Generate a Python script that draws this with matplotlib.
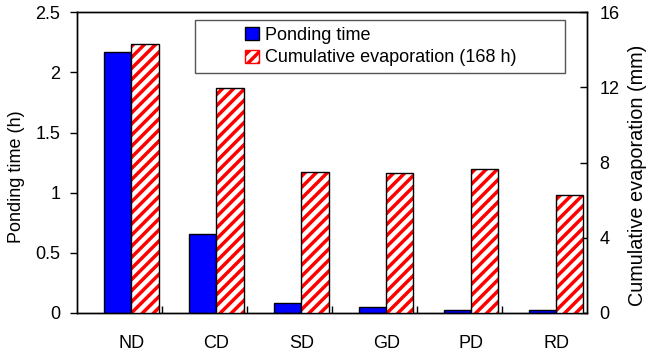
import matplotlib.pyplot as plt
import numpy as np
from matplotlib.patches import Patch, Rectangle

plt.rcParams['font.family'] = ['Liberation Sans', 'DejaVu Sans']
plt.rcParams['hatch.linewidth'] = 2.5

categories = ['ND', 'CD', 'SD', 'GD', 'PD', 'RD']
ponding_time = [2.17, 0.66, 0.08, 0.047, 0.025, 0.025]   # h
evaporation = [14.32, 11.95, 7.52, 7.43, 7.66, 6.29]      # mm

x = np.arange(len(categories))
w = 0.32

fig = plt.figure(figsize=(6.47, 3.56), dpi=100)
ax = fig.add_axes([0.119, 0.1208, 0.788, 0.845])
ax2 = ax.twinx()

ax.bar(x - w / 2, ponding_time, w, color='#0000ff', edgecolor='black', linewidth=1, zorder=3)

# hatched bars: red stripes on white, black outline on top
ax2.bar(x + w / 2, evaporation, w, color='white', edgecolor='red', hatch='///', linewidth=0, zorder=3)
ax2.bar(x + w / 2, evaporation, w, fill=False, edgecolor='black', linewidth=1, zorder=4)

ax.set_xlim(-0.64, 5.36)
ax.set_ylim(0, 2.5)
ax2.set_ylim(0, 16)
ax.set_yticks([0, 0.5, 1, 1.5, 2, 2.5])
ax.set_yticklabels(['0', '0.5', '1', '1.5', '2', '2.5'])
ax2.set_yticks([0, 4, 8, 12, 16])

ax.set_xticks(x)
ax.set_xticklabels(categories)
ax.set_xticks(np.arange(1, 6) - 0.64, minor=True)
ax.tick_params(axis='x', which='major', length=0, pad=16, labelsize=13)
ax.tick_params(axis='x', which='minor', direction='in', length=5, width=1)
ax.tick_params(axis='y', direction='out', length=5, width=1, labelsize=13, pad=7)
ax2.tick_params(axis='y', direction='in', length=5, width=1, labelsize=13, pad=9)

ax.set_ylabel('Ponding time (h)', fontsize=13)
ax2.set_ylabel('Cumulative evaporation (mm)', fontsize=14.3)
ax.yaxis.set_label_coords(-0.102, 0.452)
ax2.yaxis.set_label_coords(1.080, 0.458)

for a in (ax, ax2):
    for s in a.spines.values():
        s.set_linewidth(1)

# legend frame drawn as a plain box
fig.patches.append(Rectangle((195 / 647, 1 - 73 / 356), 370 / 647, 53 / 356,
                             transform=fig.transFigure, facecolor='white',
                             edgecolor='#555555', linewidth=1, zorder=5))
handles = [Patch(facecolor='#0000ff', edgecolor='black'),
           Patch(facecolor='white', edgecolor='red', hatch='///')]
leg = fig.legend(handles, ['Ponding time', 'Cumulative evaporation (168 h)'],
                 loc='upper left', bbox_to_anchor=(245 / 647, 1 - 27 / 356), fontsize=13,
                 frameon=False, handlelength=0.75, handleheight=0.75,
                 handletextpad=0.35, borderpad=0, labelspacing=0.3, borderaxespad=0)
leg.set_zorder(6)

fig.savefig('out.png', dpi=100)
